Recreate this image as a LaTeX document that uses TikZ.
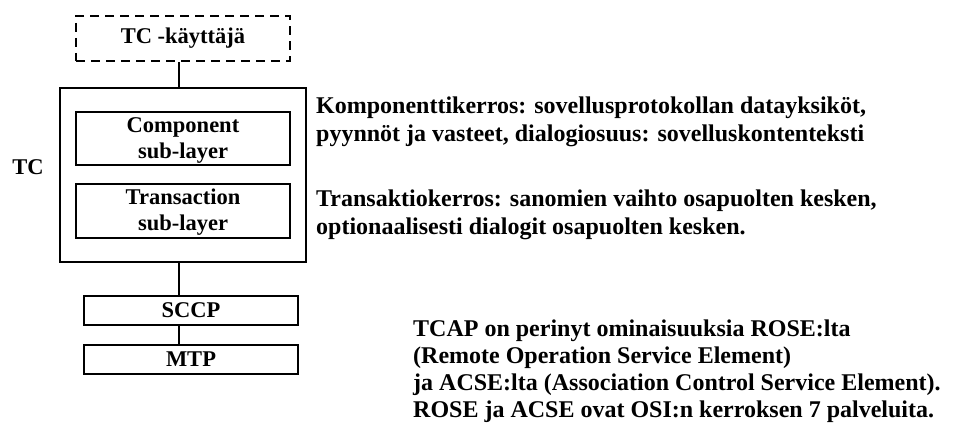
\documentclass[tikz,border=0pt]{standalone}
\usepackage{fontspec}
\setmainfont{Liberation Serif}
\begin{document}
\begin{tikzpicture}[x=1pt,y=-1pt,
  layerbox/.style={draw, line width=1.6pt, inner sep=0pt, align=center,
    font=\fontsize{22.5}{26}\selectfont\bfseries},
  note/.style={anchor=north west, align=left, inner sep=0pt,
    font=\fontsize{24}{28}\selectfont\bfseries},
  link/.style={line width=1.6pt}]
\useasboundingbox (0,0) rectangle (974,425);
% protocol stack
\node[layerbox, dashed, dash pattern=on 9pt off 6pt, line width=2.2pt,
  minimum width=214pt, minimum height=45pt] (user) at (183,38.5) {TC -käyttäjä};
\node[layerbox, minimum width=246pt, minimum height=174pt] (tc) at (183,175) {};
\node[layerbox, minimum width=214pt, minimum height=53pt] (comp) at (183,138.5) {};
\node[layerbox, minimum width=214pt, minimum height=54pt] (trans) at (183,211) {};
\node[layerbox, draw=none] (comptext) at (183,140) {Component\\sub-layer};
\node[layerbox, draw=none] (transtext) at (183,212.5) {Transaction\\sub-layer};
\node[layerbox, minimum width=214pt, minimum height=29pt] (sccp) at (191,310.5) {SCCP};
\node[layerbox, minimum width=214pt, minimum height=29pt] (mtp) at (191,359.5) {MTP};
\node[font=\fontsize{22.5}{25}\selectfont\bfseries] (tclabel) at (28,167) {TC};
% vertical links
\coordinate (axis) at (179,0);
\draw[link] (user.south -| axis) -- (tc.north -| axis);
\draw[link] (tc.south -| axis) -- (sccp.north -| axis);
\draw[link] (sccp.south -| axis) -- (mtp.north -| axis);
% descriptions
\node[note] (compnote) at (316,97) {Komponenttikerros: sovellusprotokollan datayksiköt,\\pyynnöt ja vasteet, dialogiosuus: sovelluskontenteksti};
\node[note] (transnote) at (316,190) {Transaktiokerros: sanomien vaihto osapuolten kesken,\\optionaalisesti dialogit osapuolten kesken.};
\node[note, font=\fontsize{24}{27}\selectfont\bfseries] (tcapnote) at (413,320) {TCAP on perinyt ominaisuuksia ROSE:lta\\(Remote Operation Service Element)\\ja ACSE:lta (Association Control Service Element).\\ROSE ja ACSE ovat OSI:n kerroksen 7 palveluita.};
\end{tikzpicture}
\end{document}
